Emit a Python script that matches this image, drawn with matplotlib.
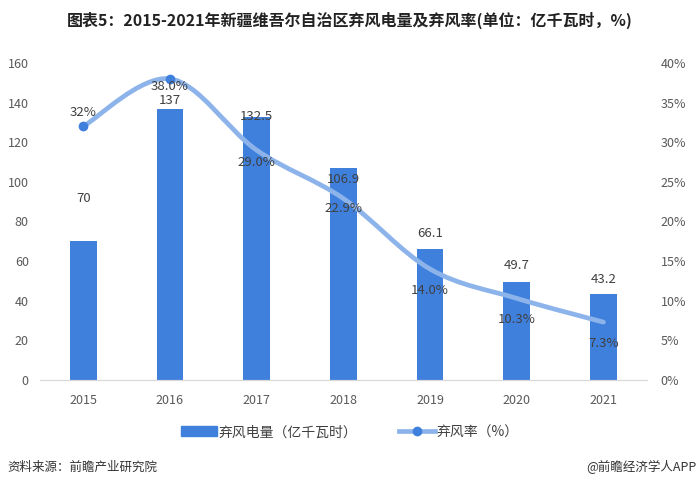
import matplotlib.pyplot as plt
import numpy as np
from matplotlib.path import Path
from matplotlib.patches import PathPatch
from matplotlib.lines import Line2D
from matplotlib.patches import Patch

plt.rcParams['font.family'] = ['Noto Sans CJK SC', 'DejaVu Sans']

years = ['2015', '2016', '2017', '2018', '2019', '2020', '2021']
curtailed = [70, 137, 132.5, 106.9, 66.1, 49.7, 43.2]
rate = [32.0, 38.0, 29.0, 22.9, 14.0, 10.3, 7.3]
bar_labels = ['70', '137', '132.5', '106.9', '66.1', '49.7', '43.2']
rate_labels = ['32%', '38.0%', '29.0%', '22.9%', '14.0%', '10.3%', '7.3%']

bar_color = '#3F80DD'
line_color = '#8DB4EA'
text_color = '#404040'
tick_color = '#595959'

fig = plt.figure(figsize=(7, 4.9), dpi=100)
ax = fig.add_axes([0.057, 0.2245, 0.867, 0.647])
ax2 = ax.twinx()

x = np.arange(len(years))
ax.bar(x, curtailed, width=0.31, color=bar_color, zorder=2)
ax.set_xlim(-0.5, len(years) - 0.5)
ax.set_ylim(0, 160)
ax.set_yticks(range(0, 161, 20))
ax2.set_ylim(0, 40)
ax2.set_yticks(range(0, 41, 5))
ax2.set_yticklabels([f'{v}%' for v in range(0, 41, 5)])
ax.set_xticks(x)
ax.set_xticklabels(years)

for a in (ax, ax2):
    for s in ('top', 'left', 'right'):
        a.spines[s].set_visible(False)
    a.spines['bottom'].set_color('#D9D9D9')
    a.tick_params(length=0, labelsize=9, colors=tick_color)
ax.tick_params(axis='x', pad=10)
ax.tick_params(axis='y', pad=8)
ax2.tick_params(axis='y', pad=10)

# smooth line through the rate points (Catmull-Rom as Bezier segments)
pts = np.column_stack([x, rate]).astype(float)
ext = np.vstack([pts[0], pts, pts[-1]])
verts = [tuple(pts[0])]
codes = [Path.MOVETO]
for i in range(len(pts) - 1):
    p0, p1, p2, p3 = ext[i], ext[i + 1], ext[i + 2], ext[i + 3]
    c1 = p1 + (p2 - p0) / 6
    c2 = p2 - (p3 - p1) / 6
    verts += [tuple(c1), tuple(c2), tuple(p2)]
    codes += [Path.CURVE4] * 3
ax2.add_patch(PathPatch(Path(verts, codes), fill=False, edgecolor=line_color,
                        lw=3.4, capstyle='round', zorder=3))
ax2.plot(x[:2], rate[:2], 'o', color=bar_color, ms=6, zorder=4)

px = 72 / 100  # pixel -> point
bar_offsets = [43, 8, 1, -11, 16, 16, 15]
for xi, v, lab, off in zip(x, curtailed, bar_labels, bar_offsets):
    ax.annotate(lab, (xi, v), xytext=(0, off * px), textcoords='offset points',
                ha='center', va='center', fontsize=9.5, color=text_color, zorder=5)

rate_offsets = [14, -8, -12, -10.5, -21.5, -21.5, -21]
for xi, v, lab, off in zip(x, rate, rate_labels, rate_offsets):
    ax2.annotate(lab, (xi, v), xytext=(0, off * px), textcoords='offset points',
                 ha='center', va='center', fontsize=9.5, color=text_color, zorder=5)

handles = [Patch(color=bar_color),
           Line2D([0], [0], color=line_color, lw=3.4, marker='o',
                  markerfacecolor=bar_color, markeredgecolor=bar_color, ms=6)]
fig.legend(handles, ['弃风电量（亿千瓦时）', '弃风率（%）'], loc='center',
           bbox_to_anchor=(0.5, 0.118), ncol=2, frameon=False, fontsize=10,
           handlelength=2.6, handleheight=0.7, columnspacing=3, handletextpad=0.1,
           labelcolor=text_color)

fig.text(0.5, 0.958, '图表5：2015-2021年新疆维吾尔自治区弃风电量及弃风率(单位：亿千瓦时，%)',
         ha='center', va='center', fontsize=11.5, fontweight='bold', color='#222222')
fig.text(0.01, 0.047, '资料来源：前瞻产业研究院', ha='left', va='center',
         fontsize=9, color='#333333')
fig.text(0.995, 0.047, '@前瞻经济学人APP', ha='right', va='center',
         fontsize=9, color='#333333')

fig.savefig('out.png', dpi=100)
